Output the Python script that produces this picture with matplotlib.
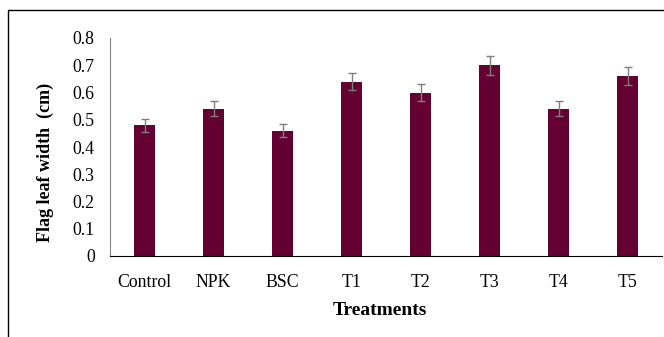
import matplotlib.pyplot as plt
from matplotlib.patches import Rectangle

treatments = ['Control', 'NPK', 'BSC', 'T1', 'T2', 'T3', 'T4', 'T5']
width_cm = [0.48, 0.54, 0.46, 0.64, 0.60, 0.70, 0.54, 0.66]
err = [0.024, 0.027, 0.023, 0.032, 0.030, 0.035, 0.027, 0.033]
yticks = [0, 0.1, 0.2, 0.3, 0.4, 0.5, 0.6, 0.7, 0.8]

plt.rcParams['font.family'] = ['Liberation Serif', 'DejaVu Serif']

fig = plt.figure(figsize=(6.64, 3.37), dpi=100)
# outer frame (only left and top visible in the picture)
fig.patches.append(Rectangle((8/664, -0.1), 1.2, 1 - 10/337 + 0.1, transform=fig.transFigure,
                             fill=False, edgecolor='black', linewidth=1.0))

ax = fig.add_axes([110/664, (337-256)/337, (662-110)/664, (256-38)/337])
x = range(len(treatments))
ax.bar(x, width_cm, width=0.31, color='#650032',
       yerr=err, error_kw=dict(ecolor='#7f7f7f', elinewidth=1.0, capsize=3, capthick=1.0))

ax.set_xlim(-0.5, len(treatments) - 0.5)
ax.set_ylim(0, 0.8)
ax.set_yticks(yticks)
ax.set_yticklabels(['0' if v == 0 else f'{v:.1f}' for v in yticks])
ax.set_xticks(list(x))
ax.set_xticklabels(treatments)
ax.tick_params(axis='both', length=0, labelsize=12.8)
ax.tick_params(axis='y', pad=11)
ax.tick_params(axis='x', pad=13)

ax.spines['top'].set_visible(False)
ax.spines['right'].set_visible(False)
ax.spines['left'].set_color('#868686')
ax.spines['bottom'].set_color('black')

ax.set_xlabel('Treatments', fontsize=14, fontweight='bold', va='center')
ax.set_ylabel('Flag leaf width  (cm)', fontsize=13, fontweight='bold', va='center')
ax.xaxis.set_label_coords(0.489, -0.248)
ax.yaxis.set_label_coords(-0.118, 0.431)

plt.savefig('out.png', dpi=100)
